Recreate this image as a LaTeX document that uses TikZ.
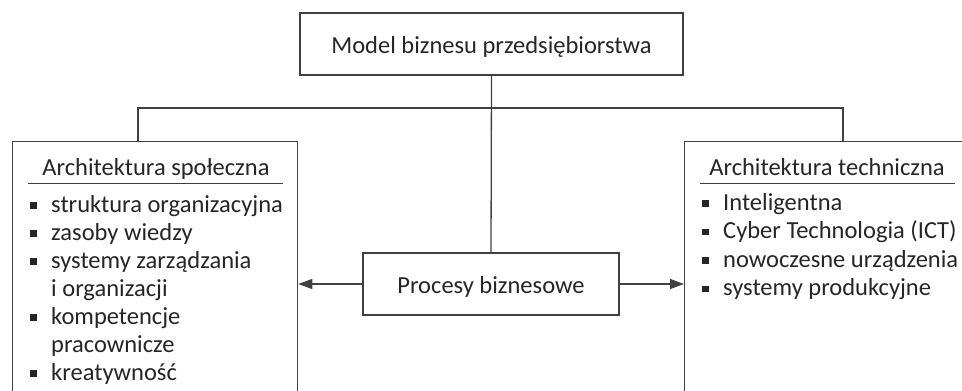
\documentclass[tikz,border=0pt]{standalone}
\usepackage{fontspec}
\setmainfont{Carlito}
\usetikzlibrary{arrows.meta}
\definecolor{linegray}{HTML}{404040}
\definecolor{textdark}{HTML}{262626}
\newcommand{\sqbul}{\textcolor{textdark}{\rule[3.5pt]{6.5pt}{6.5pt}}\hspace{14.5pt}}
\tikzset{
  box/.style={draw=linegray, line width=1.3pt, fill=white, inner sep=0pt},
  link/.style={draw=linegray, line width=1.3pt},
  flow/.style={link, -{Triangle[length=14pt, width=10pt]}},
  lbl/.style={text=textdark, font=\fontsize{24.5}{28}\selectfont, inner sep=0pt},
  boxtext/.style={text height=20pt, text depth=2pt},
  item/.style={lbl, anchor=base west},
}
\begin{document}
\begin{tikzpicture}[x=1pt, y=-1pt]
\useasboundingbox (0,0) rectangle (962,391);
\clip (0,0) rectangle (962,391);

% outer frames of the two architecture panels (they run past the bottom edge)
\node[box, minimum width=285pt, minimum height=280pt, anchor=north west] (lbox) at (12,141) {};
\node[box, minimum width=290pt, minimum height=280pt, anchor=north west] (rbox) at (684,141) {};

% top and centre boxes
\node[box, lbl, boxtext, minimum width=383pt, minimum height=62pt] (top) at (491.5,44) {Model biznesu przedsiębiorstwa};
\node[box, lbl, boxtext, minimum width=256pt, minimum height=62pt] (mid) at (491,284) {Procesy biznesowe};

% branching connectors
\coordinate (jl) at (138,108);
\coordinate (jr) at (843,108);
\draw[link] (top.south) -- (mid.north);
\draw[link] (lbox.north -| jl) -- (jl) -- (jr) -- (rbox.north -| jr);
\draw[flow] (mid.west) -- (lbox.east |- mid.west);
\draw[flow] (mid.east) -- (rbox.west |- mid.east);

% social architecture panel
\node[lbl, anchor=base] (lhead) at (156,175) {Architektura społeczna};
\draw[link, line width=1pt] (28,183) -- (283,183);
\node[item] (l1) at (30,212) {\sqbul struktura organizacyjna};
\node[item] (l2) at (30,240) {\sqbul zasoby wiedzy};
\node[item] (l3) at (30,268) {\sqbul systemy zarządzania};
\node[item] (l3b) at (51,296) {i organizacji};
\node[item] (l4) at (30,324) {\sqbul kompetencje};
\node[item] (l4b) at (51,352) {pracownicze};
\node[item] (l5) at (30,380) {\sqbul kreatywność};

% technical architecture panel
\node[lbl, anchor=base] (rhead) at (827,175) {Architektura techniczna};
\draw[link, line width=1pt] (700,183) -- (955,183);
\node[item] (r1) at (702,210) {\sqbul Inteligentna};
\node[item] (r2) at (702,238.5) {\sqbul Cyber Technologia (ICT)};
\node[item] (r3) at (702,267) {\sqbul nowoczesne urządzenia};
\node[item] (r4) at (702,295.5) {\sqbul systemy produkcyjne};
\end{tikzpicture}
\end{document}
